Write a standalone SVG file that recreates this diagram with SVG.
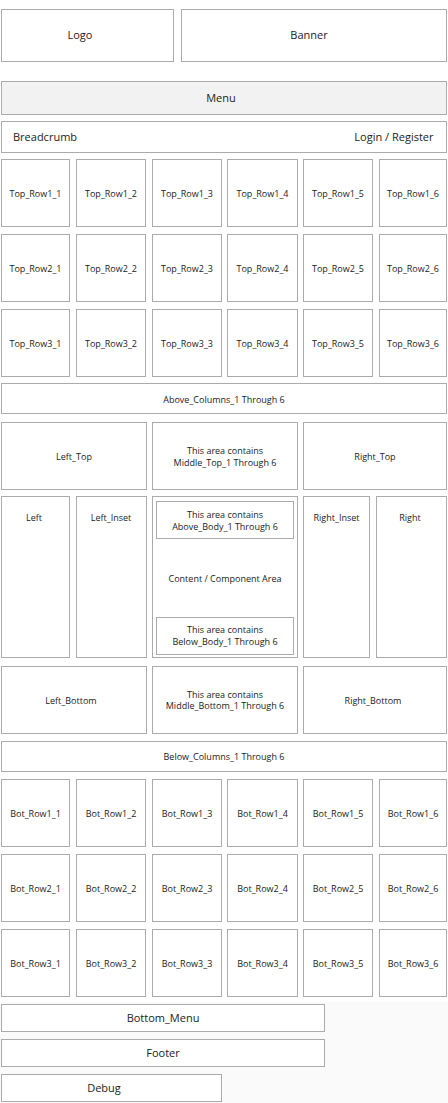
<svg xmlns="http://www.w3.org/2000/svg" width="448" height="1103" viewBox="0 0 448 1103">
<style>
rect.b{fill:#ffffff;stroke:#ababab;stroke-width:1}
rect.m{fill:#f2f2f2;stroke:#ababab;stroke-width:1}
text{font-family:"Open Sans","Noto Sans","Liberation Sans",sans-serif;fill:#222222;text-anchor:middle}
text.s{font-size:9px}
text.l{font-size:11px}
</style>
<rect x="0" y="0" width="448" height="1103" fill="#ffffff"/>
<rect x="0" y="1002" width="448" height="101" fill="#fafafa"/>
<g id="logo"><rect class="b" x="1.5" y="9.5" width="172" height="52"/><text class="l" x="80" y="38.9">Logo</text></g>
<g id="banner"><rect class="b" x="181.5" y="9.5" width="265" height="52"/><text class="l" x="309" y="38.9">Banner</text></g>
<g id="menu"><rect class="m" x="1.5" y="81.5" width="445" height="33"/><text class="l" x="221" y="102.2">Menu</text></g>
<g id="breadcrumb"><rect class="b" x="1.5" y="121.5" width="445" height="31"/><text class="l" x="13" y="141.2" style="text-anchor:start">Breadcrumb</text><text class="l" x="433.5" y="141.2" style="text-anchor:end">Login / Register</text></g>

<g id="top_row1_1"><rect class="b" x="1.5" y="159.5" width="68" height="67"/><text class="s" x="35.5" y="196.5">Top_Row1_1</text></g>
<g id="top_row1_2"><rect class="b" x="76.5" y="159.5" width="69" height="67"/><text class="s" x="111" y="196.5">Top_Row1_2</text></g>
<g id="top_row1_3"><rect class="b" x="152.5" y="159.5" width="69" height="67"/><text class="s" x="187" y="196.5">Top_Row1_3</text></g>
<g id="top_row1_4"><rect class="b" x="227.5" y="159.5" width="70" height="67"/><text class="s" x="262.5" y="196.5">Top_Row1_4</text></g>
<g id="top_row1_5"><rect class="b" x="303.5" y="159.5" width="69" height="67"/><text class="s" x="338" y="196.5">Top_Row1_5</text></g>
<g id="top_row1_6"><rect class="b" x="379.5" y="159.5" width="67" height="67"/><text class="s" x="413" y="196.5">Top_Row1_6</text></g>

<g id="top_row2_1"><rect class="b" x="1.5" y="234.5" width="68" height="67"/><text class="s" x="35.5" y="271.7">Top_Row2_1</text></g>
<g id="top_row2_2"><rect class="b" x="76.5" y="234.5" width="69" height="67"/><text class="s" x="111" y="271.7">Top_Row2_2</text></g>
<g id="top_row2_3"><rect class="b" x="152.5" y="234.5" width="69" height="67"/><text class="s" x="187" y="271.7">Top_Row2_3</text></g>
<g id="top_row2_4"><rect class="b" x="227.5" y="234.5" width="70" height="67"/><text class="s" x="262.5" y="271.7">Top_Row2_4</text></g>
<g id="top_row2_5"><rect class="b" x="303.5" y="234.5" width="69" height="67"/><text class="s" x="338" y="271.7">Top_Row2_5</text></g>
<g id="top_row2_6"><rect class="b" x="379.5" y="234.5" width="67" height="67"/><text class="s" x="413" y="271.7">Top_Row2_6</text></g>

<g id="top_row3_1"><rect class="b" x="1.5" y="309.5" width="68" height="67"/><text class="s" x="35.5" y="346.5">Top_Row3_1</text></g>
<g id="top_row3_2"><rect class="b" x="76.5" y="309.5" width="69" height="67"/><text class="s" x="111" y="346.5">Top_Row3_2</text></g>
<g id="top_row3_3"><rect class="b" x="152.5" y="309.5" width="69" height="67"/><text class="s" x="187" y="346.5">Top_Row3_3</text></g>
<g id="top_row3_4"><rect class="b" x="227.5" y="309.5" width="70" height="67"/><text class="s" x="262.5" y="346.5">Top_Row3_4</text></g>
<g id="top_row3_5"><rect class="b" x="303.5" y="309.5" width="69" height="67"/><text class="s" x="338" y="346.5">Top_Row3_5</text></g>
<g id="top_row3_6"><rect class="b" x="379.5" y="309.5" width="67" height="67"/><text class="s" x="413" y="346.5">Top_Row3_6</text></g>

<g id="above_columns"><rect class="b" x="1.5" y="383.5" width="445" height="30"/><text class="s" x="224" y="403.2">Above_Columns_1 Through 6</text></g>

<g id="left_top"><rect class="b" x="1.5" y="422.5" width="145" height="67"/><text class="s" x="74" y="459.9">Left_Top</text></g>
<g id="middle_top"><rect class="b" x="152.5" y="422.5" width="145" height="67"/><text class="s" x="225" y="454.2">This area contains</text><text class="s" x="225" y="466">Middle_Top_1 Through 6</text></g>
<g id="right_top"><rect class="b" x="303.5" y="422.5" width="143" height="67"/><text class="s" x="375" y="459.9">Right_Top</text></g>

<g id="left"><rect class="b" x="1.5" y="496.5" width="68" height="161"/><text class="s" x="34" y="521.4">Left</text></g>
<g id="left_inset"><rect class="b" x="76.5" y="496.5" width="70" height="161"/><text class="s" x="111" y="521.4">Left_Inset</text></g>
<g id="content"><rect class="b" x="152.5" y="496.5" width="145" height="161"/><text class="s" x="225" y="581.5">Content / Component Area</text></g>
<g id="above_body"><rect class="b" x="156.5" y="501.5" width="137" height="37"/><text class="s" x="225" y="518.2">This area contains</text><text class="s" x="225" y="530">Above_Body_1 Through 6</text></g>
<g id="below_body"><rect class="b" x="156.5" y="617.5" width="137" height="37"/><text class="s" x="225" y="633.2">This area contains</text><text class="s" x="225" y="645">Below_Body_1 Through 6</text></g>
<g id="right_inset"><rect class="b" x="303.5" y="496.5" width="66" height="161"/><text class="s" x="336.5" y="521.4">Right_Inset</text></g>
<g id="right"><rect class="b" x="376.5" y="496.5" width="70" height="161"/><text class="s" x="410" y="521.4">Right</text></g>

<g id="left_bottom"><rect class="b" x="1.5" y="666.5" width="145" height="67"/><text class="s" x="71" y="704.2">Left_Bottom</text></g>
<g id="middle_bottom"><rect class="b" x="152.5" y="666.5" width="145" height="67"/><text class="s" x="225" y="697.6">This area contains</text><text class="s" x="225" y="709.4">Middle_Bottom_1 Through 6</text></g>
<g id="right_bottom"><rect class="b" x="303.5" y="666.5" width="143" height="67"/><text class="s" x="373" y="704.2">Right_Bottom</text></g>

<g id="below_columns"><rect class="b" x="1.5" y="741.5" width="445" height="30"/><text class="s" x="224" y="759.9">Below_Columns_1 Through 6</text></g>

<g id="bot_row1_1"><rect class="b" x="1.5" y="779.5" width="68" height="67"/><text class="s" x="35.5" y="816.5">Bot_Row1_1</text></g>
<g id="bot_row1_2"><rect class="b" x="76.5" y="779.5" width="69" height="67"/><text class="s" x="111" y="816.5">Bot_Row1_2</text></g>
<g id="bot_row1_3"><rect class="b" x="152.5" y="779.5" width="69" height="67"/><text class="s" x="187" y="816.5">Bot_Row1_3</text></g>
<g id="bot_row1_4"><rect class="b" x="227.5" y="779.5" width="70" height="67"/><text class="s" x="262.5" y="816.5">Bot_Row1_4</text></g>
<g id="bot_row1_5"><rect class="b" x="303.5" y="779.5" width="69" height="67"/><text class="s" x="338" y="816.5">Bot_Row1_5</text></g>
<g id="bot_row1_6"><rect class="b" x="379.5" y="779.5" width="67" height="67"/><text class="s" x="413" y="816.5">Bot_Row1_6</text></g>

<g id="bot_row2_1"><rect class="b" x="1.5" y="854.5" width="68" height="67"/><text class="s" x="35.5" y="891.5">Bot_Row2_1</text></g>
<g id="bot_row2_2"><rect class="b" x="76.5" y="854.5" width="69" height="67"/><text class="s" x="111" y="891.5">Bot_Row2_2</text></g>
<g id="bot_row2_3"><rect class="b" x="152.5" y="854.5" width="69" height="67"/><text class="s" x="187" y="891.5">Bot_Row2_3</text></g>
<g id="bot_row2_4"><rect class="b" x="227.5" y="854.5" width="70" height="67"/><text class="s" x="262.5" y="891.5">Bot_Row2_4</text></g>
<g id="bot_row2_5"><rect class="b" x="303.5" y="854.5" width="69" height="67"/><text class="s" x="338" y="891.5">Bot_Row2_5</text></g>
<g id="bot_row2_6"><rect class="b" x="379.5" y="854.5" width="67" height="67"/><text class="s" x="413" y="891.5">Bot_Row2_6</text></g>

<g id="bot_row3_1"><rect class="b" x="1.5" y="929.5" width="68" height="67"/><text class="s" x="35.5" y="966.5">Bot_Row3_1</text></g>
<g id="bot_row3_2"><rect class="b" x="76.5" y="929.5" width="69" height="67"/><text class="s" x="111" y="966.5">Bot_Row3_2</text></g>
<g id="bot_row3_3"><rect class="b" x="152.5" y="929.5" width="69" height="67"/><text class="s" x="187" y="966.5">Bot_Row3_3</text></g>
<g id="bot_row3_4"><rect class="b" x="227.5" y="929.5" width="70" height="67"/><text class="s" x="262.5" y="966.5">Bot_Row3_4</text></g>
<g id="bot_row3_5"><rect class="b" x="303.5" y="929.5" width="69" height="67"/><text class="s" x="338" y="966.5">Bot_Row3_5</text></g>
<g id="bot_row3_6"><rect class="b" x="379.5" y="929.5" width="67" height="67"/><text class="s" x="413" y="966.5">Bot_Row3_6</text></g>

<g id="bottom_menu"><rect class="b" x="1.5" y="1004.5" width="323" height="27"/><text class="l" x="163" y="1022.2">Bottom_Menu</text></g>
<g id="footer"><rect class="b" x="1.5" y="1039.5" width="323" height="27"/><text class="l" x="163" y="1057.2">Footer</text></g>
<g id="debug"><rect class="b" x="1.5" y="1074.5" width="220" height="27"/><text class="l" x="104" y="1092.2">Debug</text></g>
<g id="connectors"></g>
</svg>
